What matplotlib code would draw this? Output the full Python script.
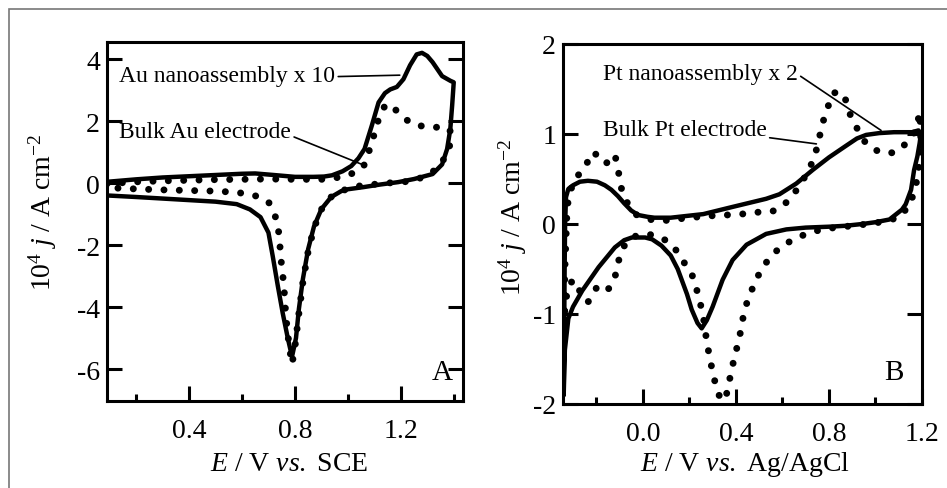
import matplotlib
matplotlib.use("Agg")
import matplotlib.pyplot as plt
from matplotlib.patches import Rectangle

plt.rcParams['font.family'] = ['Liberation Serif', 'DejaVu Serif']
plt.rcParams['mathtext.fontset'] = 'custom'
plt.rcParams['mathtext.rm'] = 'Liberation Serif'
plt.rcParams['mathtext.it'] = 'Liberation Serif:italic'
plt.rcParams['axes.unicode_minus'] = False

# Panel A: Au nanoassembly (x10, solid) and bulk Au electrode (dotted), E vs SCE
au_nano_E = [0.09, 0.2, 0.3, 0.4, 0.5, 0.6, 0.65, 0.72, 0.8, 0.87, 0.91, 0.94, 0.98, 1.013, 1.04,
             1.063, 1.09, 1.116, 1.14, 1.16, 1.185, 1.21, 1.235, 1.26, 1.28, 1.30, 1.32, 1.356,
             1.387, 1.40, 1.394, 1.387, 1.375, 1.356, 1.32, 1.25, 1.19, 1.12, 1.06, 1.0, 0.975,
             0.937, 0.9, 0.872, 0.85, 0.83, 0.815, 0.804, 0.789, 0.773, 0.754, 0.735, 0.716,
             0.70, 0.67, 0.63, 0.58, 0.5, 0.4, 0.3, 0.2, 0.09]
au_nano_j = [0.04, 0.12, 0.18, 0.22, 0.26, 0.3, 0.31, 0.26, 0.2, 0.2, 0.21, 0.25, 0.38, 0.55, 0.8,
             1.1, 1.84, 2.6, 2.9, 3.02, 3.1, 3.35, 3.8, 4.15, 4.2, 4.1, 3.9, 3.45,
             3.3, 3.25, 2.5, 1.74, 1.1, 0.6, 0.29, 0.13, 0.03, -0.05, -0.13, -0.2, -0.26,
             -0.45, -0.84, -1.4, -2.13, -3.1, -4.06, -5.0, -5.6, -5.0, -4.2, -3.3, -2.35,
             -1.6, -1.1, -0.85, -0.68, -0.6, -0.55, -0.5, -0.45, -0.4]

au_bulk_E = [0.09, 0.2, 0.3, 0.4, 0.5, 0.6, 0.7, 0.8, 0.9, 0.95, 1.0, 1.04, 1.06, 1.08, 1.097,
             1.116, 1.14, 1.155, 1.17, 1.196, 1.225, 1.253, 1.314, 1.375, 1.39, 1.383, 1.35,
             1.306, 1.24, 1.15, 1.05, 0.975, 0.937, 0.9, 0.872, 0.85, 0.83, 0.815, 0.80, 0.789,
             0.78, 0.772, 0.766, 0.762, 0.758, 0.75, 0.745, 0.74, 0.73, 0.70, 0.645, 0.58, 0.5,
             0.4, 0.3, 0.2, 0.12, 0.09]
au_bulk_j = [-0.02, 0.04, 0.07, 0.09, 0.11, 0.12, 0.13, 0.12, 0.12, 0.16, 0.25, 0.4, 0.55, 1.03, 1.5,
             2.06, 2.5, 2.55, 2.45, 2.23, 2.02, 1.87, 1.8, 1.8, 1.64, 1.1, 0.58,
             0.26, 0.06, 0.0, -0.08, -0.25, -0.45, -0.85, -1.45, -2.2, -3.2, -4.2, -5.3, -5.84,
             -5.35, -4.8, -4.3, -3.8, -3.26, -2.7, -2.2, -1.65, -1.16, -0.6, -0.39, -0.3, -0.26,
             -0.24, -0.22, -0.19, -0.16, -0.15]

# Panel B: Pt nanoassembly (x2, solid) and bulk Pt electrode (dotted), E vs Ag/AgCl
pt_nano_E = [-0.34, -0.338, -0.336, -0.334, -0.33, -0.32, -0.30, -0.27, -0.236, -0.197, -0.163,
             -0.135, -0.107, -0.08, -0.05, -0.02, 0.02, 0.05, 0.12, 0.19, 0.26, 0.386, 0.45, 0.53,
             0.587, 0.66, 0.73, 0.80, 0.874, 0.92, 0.96, 1.016, 1.08, 1.157, 1.185, 1.195,
             1.19, 1.18, 1.166, 1.153, 1.13, 1.114, 1.06, 1.0, 0.943, 0.87, 0.80, 0.70, 0.617,
             0.53, 0.446, 0.386, 0.343, 0.30, 0.275, 0.253, 0.235, 0.21, 0.19, 0.15, 0.12, 0.08,
             0.04, 0.01, -0.047, -0.08, -0.12, -0.19, -0.26, -0.30, -0.32, -0.335, -0.34]
pt_nano_j = [-1.9, -1.2, -0.5, 0.0, 0.3, 0.39, 0.43, 0.47, 0.48, 0.47, 0.43,
             0.38, 0.31, 0.23, 0.15, 0.1, 0.08, 0.07, 0.07, 0.09, 0.11, 0.19, 0.23, 0.28,
             0.33, 0.45, 0.6, 0.74, 0.87, 0.95, 0.99, 1.01, 1.02, 1.02, 1.04, 1.0,
             0.9, 0.75, 0.6, 0.38, 0.22, 0.16, 0.05, 0.02, 0.0, -0.02, -0.03, -0.04, -0.06,
             -0.11, -0.23, -0.4, -0.62, -0.92, -1.07, -1.16, -1.1, -0.95, -0.78, -0.5, -0.35, -0.24,
             -0.17, -0.15, -0.15, -0.18, -0.26, -0.48, -0.74, -0.92, -1.05, -1.4, -1.9]

pt_bulk_E = [-0.34, -0.335, -0.325, -0.30, -0.25, -0.214, -0.19, -0.163, -0.14, -0.12, -0.107,
             -0.094, -0.07, -0.045, -0.026, 0.03, 0.1, 0.2, 0.287, 0.36, 0.424, 0.49, 0.557,
             0.61, 0.665, 0.71, 0.737, 0.755, 0.77, 0.793, 0.815, 0.84, 0.866, 0.887, 0.917,
             0.96, 1.016, 1.08, 1.13, 1.174, 1.19, 1.195, 1.19, 1.175, 1.15, 1.1, 1.0, 0.9,
             0.83, 0.79, 0.724, 0.664, 0.6, 0.553, 0.51, 0.48, 0.45, 0.433, 0.42, 0.403, 0.386,
             0.373, 0.355, 0.335, 0.317, 0.30, 0.287, 0.274, 0.26, 0.24, 0.21, 0.17, 0.13, 0.08,
             0.02, -0.04, -0.07, -0.09, -0.11, -0.12, -0.14, -0.155, -0.175, -0.197, -0.22,
             -0.236, -0.26, -0.28, -0.30, -0.32, -0.335, -0.34]
pt_bulk_j = [-1.3, -0.5, 0.2, 0.47, 0.63, 0.8, 0.75, 0.67, 0.7, 0.77, 0.62,
             0.41, 0.25, 0.15, 0.1, 0.05, 0.04, 0.07, 0.09, 0.1, 0.11, 0.13, 0.14,
             0.22, 0.39, 0.58, 0.74, 0.91, 1.1, 1.28, 1.45, 1.47, 1.43, 1.24, 1.08,
             0.89, 0.8, 0.79, 0.89, 1.04, 1.24, 1.0, 0.7, 0.45, 0.22, 0.07, 0.01, -0.02,
             -0.04, -0.05, -0.09, -0.15, -0.24, -0.35, -0.5, -0.66, -0.85, -1.01, -1.2, -1.39, -1.57,
             -1.73, -1.95, -1.95, -1.83, -1.64, -1.48, -1.29, -1.03, -0.8, -0.55, -0.4, -0.24, -0.15,
             -0.11, -0.14, -0.2, -0.29, -0.46, -0.6, -0.7, -0.74, -0.7, -0.7, -0.8,
             -0.87, -0.8, -0.7, -0.62, -0.7, -0.9, -1.3]

fig = plt.figure(figsize=(9.47, 4.89), dpi=100)
fig.patches.append(Rectangle((9 / 947, -0.1), 1.2, 1 - 10 / 489 + 0.1, transform=fig.transFigure,
                             fill=False, edgecolor='#777777', lw=1.2))

axA = fig.add_axes([107 / 947, 1 - 402 / 489, 356 / 947, 359 / 489])
axB = fig.add_axes([563 / 947, 1 - 405 / 489, 359 / 947, 360 / 489])

dots = dict(color='black', lw=5.0, linestyle=(0, (0.01, 2.2)), dash_capstyle='round')
solid = dict(color='black', lw=3.2, solid_joinstyle='round', solid_capstyle='round')

axA.plot(au_bulk_E, au_bulk_j, **dots)
axA.plot(au_nano_E, au_nano_j, **solid)
axB.plot(pt_bulk_E, pt_bulk_j, **dots)
axB.plot(pt_nano_E, pt_nano_j, **solid)

axA.set_xlim(0.09, 1.435)
axA.set_ylim(-7.03, 4.55)
axA.set_xticks([0.4, 0.8, 1.2])
axA.set_xticklabels(['0.4', '0.8', '1.2'])
axA.set_xticks([0.2, 0.6, 1.0, 1.4], minor=True)
axA.set_yticks([-6, -4, -2, 0, 2, 4])
axA.set_yticklabels(['-6', '-4', '-2', '0', '2', '4'])

axB.set_xlim(-0.343, 1.2)
axB.set_ylim(-2, 2)
axB.set_xticks([0.0, 0.4, 0.8, 1.2])
axB.set_xticklabels(['0.0', '0.4', '0.8', '1.2'])
axB.set_xticks([-0.2, 0.2, 0.6, 1.0], minor=True)
axB.set_yticks([-2, -1, 0, 1, 2])
axB.set_yticklabels(['-2', '-1', '0', '1', '2'])

for ax in (axA, axB):
    for s in ax.spines.values():
        s.set_linewidth(2.2)
    ax.tick_params(axis='both', which='both', direction='in', width=2.2, labelsize=20)
    ax.tick_params(axis='x', which='major', length=11, pad=12, top=False)
    ax.tick_params(axis='x', which='minor', length=5, top=False)
    ax.tick_params(axis='y', which='major', length=11, pad=5, left=True, right=True)

txt = dict(fontsize=17, ha='left', va='baseline')
axA.annotate('Au nanoassembly x 10', xy=(1.196, 3.48), xytext=(0.137, 3.29),
             arrowprops=dict(arrowstyle='-', lw=1.2, shrinkA=0, shrinkB=0, relpos=(1, 0.45)), **txt)
axA.annotate('Bulk Au electrode', xy=(1.051, 0.61), xytext=(0.137, 1.48),
             arrowprops=dict(arrowstyle='-', lw=1.2, shrinkA=0, shrinkB=0, relpos=(1, 0.3)), **txt)
axB.annotate('Pt nanoassembly x 2', xy=(1.024, 1.04), xytext=(-0.171, 1.61),
             arrowprops=dict(arrowstyle='-', lw=1.2, shrinkA=0, shrinkB=0, relpos=(1, 0.46)), **txt)
axB.annotate('Bulk Pt electrode', xy=(0.746, 0.89), xytext=(-0.171, 0.99),
             arrowprops=dict(arrowstyle='-', lw=1.2, shrinkA=0, shrinkB=0, relpos=(1, 0.12)), **txt)

axA.text(1.318, -6.32, 'A', fontsize=21, ha='left', va='baseline')
axB.text(1.037, -1.72, 'B', fontsize=21, ha='left', va='baseline')

ylab = r'10$^4$ $j$ / A cm$^{-2}$'
fig.text(43 / 947, 1 - 212 / 489, ylab, rotation=90, fontsize=20, ha='center', va='center')
fig.text(513 / 947, 1 - 217 / 489, ylab, rotation=90, fontsize=20, ha='center', va='center')
fig.text(289 / 947, 1 - 471 / 489, r'$E$ / V $vs.$ SCE', fontsize=20, ha='center', va='baseline')
fig.text(745 / 947, 1 - 471 / 489, r'$E$ / V $vs.$ Ag/AgCl', fontsize=20, ha='center', va='baseline')

fig.savefig('out.png', dpi=100)
